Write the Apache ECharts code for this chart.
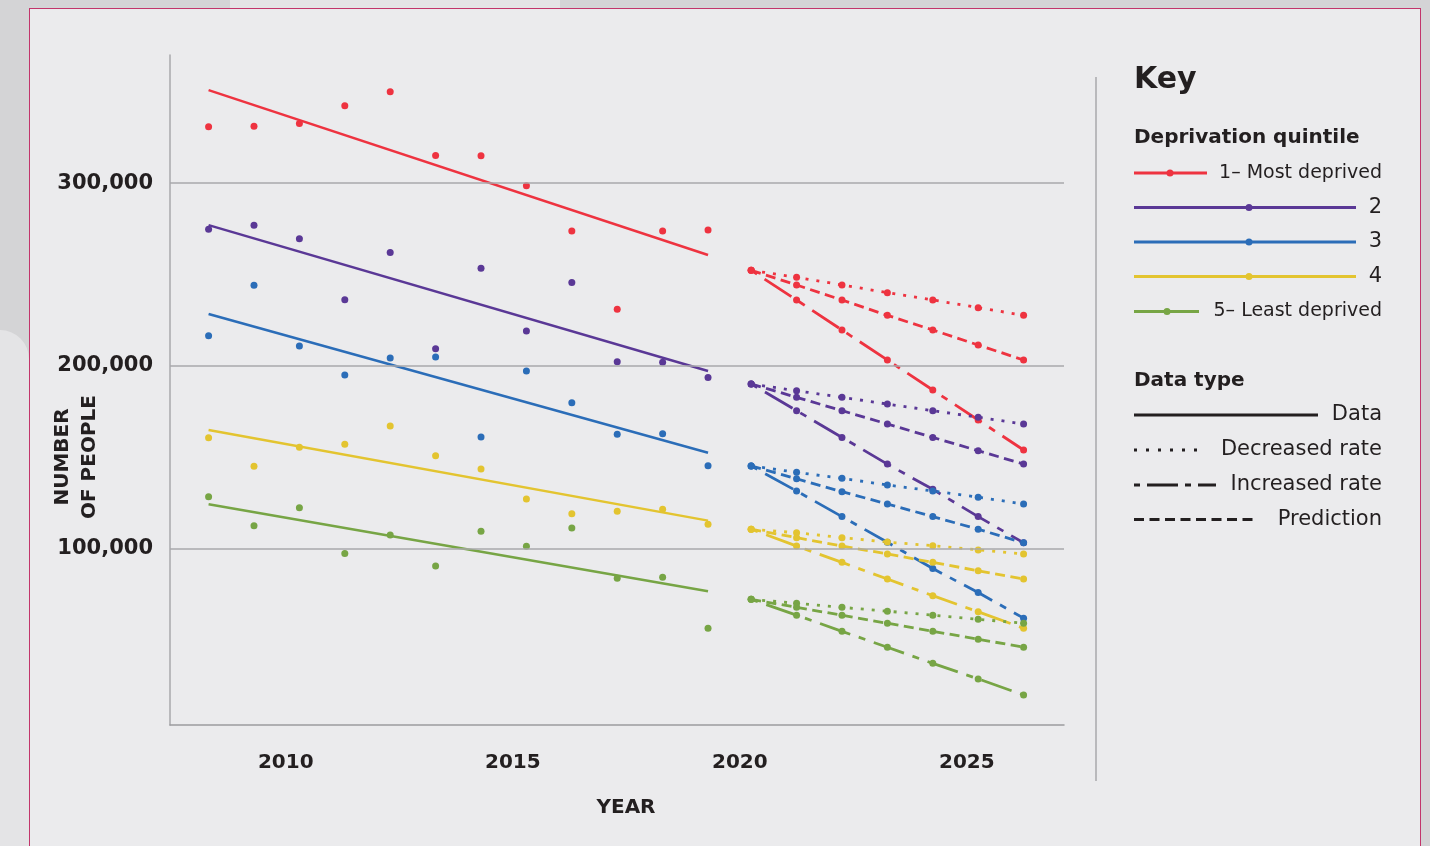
<!DOCTYPE html>
<html>
<head>
<meta charset="utf-8">
<script src="https://cdn.jsdelivr.net/npm/echarts@6/dist/echarts.min.js"></script>
<style>
  html, body { margin:0; padding:0; width:1430px; height:846px; overflow:hidden; background:#d4d4d6; }
  #bgl { position:absolute; left:0; top:330px; width:29px; height:516px; background:#e4e4e6; border-top-right-radius:30px; }
  #bgt { position:absolute; left:230px; top:0; width:330px; height:8px; background:#e4e4e6; }
  #frame { position:absolute; left:29px; top:8px; width:1390px; height:850px; background:#ebebed; border:1.5px solid #c2356b; }
  #chart { position:absolute; left:0; top:0; width:1430px; height:846px; }
</style>
</head>
<body>
<div id="bgl"></div>
<div id="bgt"></div>
<div id="frame"></div>
<div id="chart"></div>
<script>
// ---- data (values in people) ----
const histYears = [2008.3, 2009.3, 2010.3, 2011.3, 2012.3, 2013.3, 2014.3, 2015.3, 2016.3, 2017.3, 2018.3, 2019.3];
const predYears = [2020.25, 2021.25, 2022.25, 2023.25, 2024.25, 2025.25, 2026.25];
const trendYears = [2008.3, 2019.3];

const q1Hist = [330800, 331100, 332600, 342200, 349900, 315100, 314900, 298500, 273800, 231100, 273800, 274300];
const q2Hist = [274700, 277000, 269600, 236200, 262100, 209500, 253400, 219100, 245700, 202400, 202000, 193800];
const q3Hist = [216600, 244100, 210900, 195100, 204400, 204900, 161200, 197300, 179900, 162700, 163000, 145500];
const q4Hist = [160800, 145200, 155600, 157200, 167200, 151000, 143700, 127300, 119300, 120600, 121700, 113500];
const q5Hist = [128600, 112700, 122600, 97600, 107700, 90700, 109700, 101500, 111500, 84000, 84500, 56700];

const q1Trend = [350800, 260700];
const q2Trend = [277000, 197300];
const q3Trend = [228400, 152600];
const q4Trend = [165000, 115500];
const q5Trend = [124400, 76900];

const q1Dec  = [252300, 248500, 244300, 240100, 236100, 231900, 227700];
const q1Pred = [252300, 244300, 236100, 227700, 219700, 211500, 203300];
const q1Inc  = [252300, 236100, 219700, 203300, 186900, 170500, 154100];

const q2Dec  = [190200, 186500, 182900, 179200, 175600, 172000, 168300];
const q2Pred = [190200, 182900, 175600, 168300, 161000, 153700, 146400];
const q2Inc  = [190200, 175600, 161000, 146400, 132600, 117700, 103400];

const q3Dec  = [145400, 141900, 138600, 135000, 131700, 128300, 124600];
const q3Pred = [145400, 138400, 131300, 124600, 117700, 110800, 103400];
const q3Inc  = [145400, 131700, 117700, 103700, 89300, 76200, 62200];

const q4Dec  = [110800, 108900, 106200, 103800, 101800, 99500, 97300];
const q4Pred = [110800, 106200, 101600, 97300, 92700, 88100, 83600];
const q4Inc  = [110800, 101600, 92700, 83600, 74500, 65700, 56700];

const q5Dec  = [72500, 70300, 68100, 66000, 63800, 61600, 59400];
const q5Pred = [72500, 68100, 63800, 59400, 55000, 50700, 46300];
const q5Inc  = [72500, 63800, 55000, 46300, 37500, 29000, 20200];

const xTicks = [2010, 2015, 2020, 2025];
const yTicks = [100000, 200000, 300000];

const quintileNames = ['1– Most deprived', '2', '3', '4', '5– Least deprived'];
const typeNames = ['Data', 'Decreased rate', 'Increased rate', 'Prediction'];
const colors = ['#ee3340', '#5a3896', '#2b6db8', '#e3c430', '#77a545'];

const hist = [q1Hist, q2Hist, q3Hist, q4Hist, q5Hist];
const trend = [q1Trend, q2Trend, q3Trend, q4Trend, q5Trend];
const dec = [q1Dec, q2Dec, q3Dec, q4Dec, q5Dec];
const pred = [q1Pred, q2Pred, q3Pred, q4Pred, q5Pred];
const inc = [q1Inc, q2Inc, q3Inc, q4Inc, q5Inc];

// ---- styles ----
const DOT = [3, 8];
const DASH = [10, 5.5];
const DASHDOT = [7, 9, 32, 9];
const FONT = 'DejaVu Sans';
const TXT = '#231f20';

const zip = (xs, ys) => xs.map((x, i) => [x, ys[i]]);

const series = [];
series.push({
  type: 'line', data: [], silent: true, z: 0,
  markLine: {
    silent: true, symbol: 'none', label: { show: false }, animation: false,
    lineStyle: { color: '#a9a9ab', width: 1.5, type: 'solid' },
    data: yTicks.map(v => ({ yAxis: v }))
  }
});
for (let q = 0; q < 5; q++) {
  const c = colors[q];
  series.push({ type: 'scatter', data: zip(histYears, hist[q]), symbolSize: 7, itemStyle: { color: c, opacity: 1 }, z: 3 });
  series.push({ type: 'line', data: zip(trendYears, trend[q]), showSymbol: false, symbol: 'none',
    lineStyle: { color: c, width: 2.5 }, z: 2 });
  const mk = (arr, dash) => ({
    type: 'line', data: zip(predYears, arr), symbol: 'circle', symbolSize: 7, showSymbol: true,
    itemStyle: { color: c, opacity: 1 }, lineStyle: { color: c, width: 2.8, type: dash }, z: 2
  });
  series.push(mk(dec[q], DOT));
  series.push(mk(pred[q], DASH));
  series.push(mk(inc[q], DASHDOT));
}

// ---- key graphics ----
const g = [];
g.push({ type: 'line', shape: { x1: 1096, y1: 77, x2: 1096, y2: 781 }, style: { stroke: '#a9a9ab', lineWidth: 1.5 } });
g.push({ type: 'text', x: 1134, y: 80, style: { text: 'Key', font: 'bold 30px ' + FONT, fill: TXT, align: 'left', verticalAlign: 'middle' } });
g.push({ type: 'text', x: 1134, y: 138, style: { text: 'Deprivation quintile', font: 'bold 20px ' + FONT, fill: TXT, align: 'left', verticalAlign: 'middle' } });
const qLineEnd = [1207, 1356, 1356, 1356, 1199];
const qDot = [1170, 1249, 1249, 1249, 1167];
const qY = [173, 207.5, 242, 276.5, 311.5];
const qSize = [19, 21, 21, 21, 19];
for (let q = 0; q < 5; q++) {
  g.push({ type: 'line', shape: { x1: 1134, y1: qY[q], x2: qLineEnd[q], y2: qY[q] }, style: { stroke: colors[q], lineWidth: 3 } });
  g.push({ type: 'circle', shape: { cx: qDot[q], cy: qY[q], r: 3.5 }, style: { fill: colors[q] } });
  g.push({ type: 'text', x: 1382, y: qY[q], style: { text: quintileNames[q], font: qSize[q] + 'px ' + FONT, fill: TXT, align: 'right', verticalAlign: 'middle' } });
}
g.push({ type: 'text', x: 1134, y: 381, style: { text: 'Data type', font: 'bold 20px ' + FONT, fill: TXT, align: 'left', verticalAlign: 'middle' } });
const tY = [415, 450, 485, 519.5];
const tEnd = [1318, 1206, 1216, 1257];
const tDash = [null, [3, 9], [6, 7, 31, 7], [10, 5.5]];
for (let t = 0; t < 4; t++) {
  const st = { stroke: TXT, lineWidth: 3 };
  if (tDash[t]) st.lineDash = tDash[t];
  g.push({ type: 'line', shape: { x1: 1134, y1: tY[t], x2: tEnd[t], y2: tY[t] }, style: st });
  g.push({ type: 'text', x: 1382, y: tY[t], style: { text: typeNames[t], font: '21px ' + FONT, fill: TXT, align: 'right', verticalAlign: 'middle' } });
}
g.push({ type: 'text', x: 76.5, y: 457, rotation: Math.PI / 2,
  style: { text: 'NUMBER\nOF PEOPLE', font: 'bold 20px ' + FONT, fill: TXT, align: 'center', verticalAlign: 'middle', lineHeight: 27 } });
g.push({ type: 'text', x: 626, y: 808, style: { text: 'YEAR', font: 'bold 20px ' + FONT, fill: TXT, align: 'center', verticalAlign: 'middle' } });

const chart = echarts.init(document.getElementById('chart'), null, { renderer: 'canvas' });
chart.setOption({
  backgroundColor: 'transparent',
  animation: false,
  grid: { left: 170, top: 55, width: 894, height: 670 },
  xAxis: {
    type: 'value', min: 2007.45, max: 2027.14,
    axisLine: { show: true, lineStyle: { color: '#9c9c9e', width: 1.5 } },
    axisTick: { show: false }, splitLine: { show: false },
    axisLabel: { customValues: xTicks, margin: 28, color: TXT, fontFamily: FONT, fontWeight: 'bold', fontSize: 20,
      formatter: v => String(Math.round(v)) }
  },
  yAxis: {
    type: 'value', min: 3800, max: 370000,
    axisLine: { show: true, lineStyle: { color: '#a9a9ab', width: 1.5 } },
    axisTick: { show: false }, splitLine: { show: false },
    axisLabel: { customValues: yTicks, margin: 17, color: TXT, fontFamily: FONT, fontWeight: 'bold', fontSize: 21,
      formatter: v => Math.round(v).toLocaleString('en-US') }
  },
  series: series,
  graphic: g
});
</script>
</body>
</html>
